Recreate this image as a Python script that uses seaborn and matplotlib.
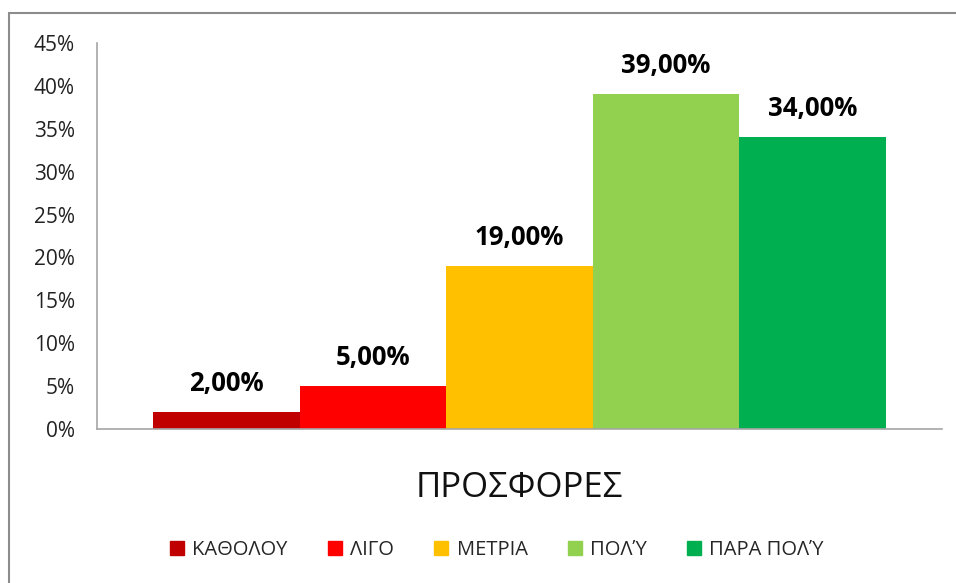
import matplotlib
matplotlib.use("Agg")
import matplotlib.pyplot as plt
import seaborn as sns
import pandas as pd
from matplotlib.lines import Line2D
from matplotlib.ticker import FuncFormatter

group = ["ΠΡΟΣΦΟΡΕΣ"]
labels = ["ΚΑΘΟΛΟΥ", "ΛΙΓΟ", "ΜΕΤΡΙΑ", "ΠΟΛΎ", "ΠΑΡΑ ΠΟΛΎ"]
values = [0.02, 0.05, 0.19, 0.39, 0.34]
colors = ["#C00000", "#FF0000", "#FFC000", "#92D050", "#00B050"]
yticks = [0, 0.05, 0.10, 0.15, 0.20, 0.25, 0.30, 0.35, 0.40, 0.45]

df = pd.DataFrame({"group": group * len(labels), "label": labels, "value": values})

sns.set_theme(style="white")
plt.rcParams["font.family"] = ["Open Sans", "DejaVu Sans"]

fig = plt.figure(figsize=(9.56, 5.83), dpi=100)
ax = fig.add_axes([97/956, 1 - 429/583, (942-97)/956, (429-43)/583])

sns.barplot(data=df, x="group", y="value", hue="label", hue_order=labels,
            palette=colors, width=0.867, gap=0, saturation=1, ax=ax,
            edgecolor="none", linewidth=0)

for cont in ax.containers:
    ax.bar_label(cont, labels=[f"{v*100:.2f}%".replace(".", ",") for v in cont.datavalues],
                 padding=11, fontsize=18.5, fontweight="bold", color="#000000")

ax.set_ylim(0, 0.45)
ax.set_xlim(-0.5, 0.5)
ax.set_yticks(yticks)
ax.yaxis.set_major_formatter(FuncFormatter(lambda v, p: f"{round(v*100)}%"))
ax.tick_params(axis="y", labelsize=15, colors="#222222", length=0, pad=16)
ax.tick_params(axis="x", labelsize=25, colors="#111111", length=0, pad=30)
ax.set_xlabel("")
ax.set_ylabel("")
for s in ["top", "right"]:
    ax.spines[s].set_visible(False)
for s in ["left", "bottom"]:
    ax.spines[s].set_color("#A6A6A6")
    ax.spines[s].set_linewidth(1.2)

leg = ax.get_legend()
if leg is not None:
    leg.remove()
handles = [plt.Rectangle((0, 0), 1, 1, color=c) for c in colors]
fig.legend(handles, labels, loc="center", bbox_to_anchor=(497/956, 1 - 550/583),
           ncol=5, frameon=False, fontsize=14.5, handlelength=0.7, handleheight=0.7,
           handletextpad=0.4, columnspacing=2.0)

# outer chart border (top and left)
fig.add_artist(Line2D([9/956, 1], [1 - 13/583, 1 - 13/583], transform=fig.transFigure,
                      color="#8C8C8C", linewidth=1.5))
fig.add_artist(Line2D([9/956, 9/956], [0, 1 - 13/583], transform=fig.transFigure,
                      color="#8C8C8C", linewidth=1.5))

fig.savefig("out.png", dpi=100, facecolor="white")
